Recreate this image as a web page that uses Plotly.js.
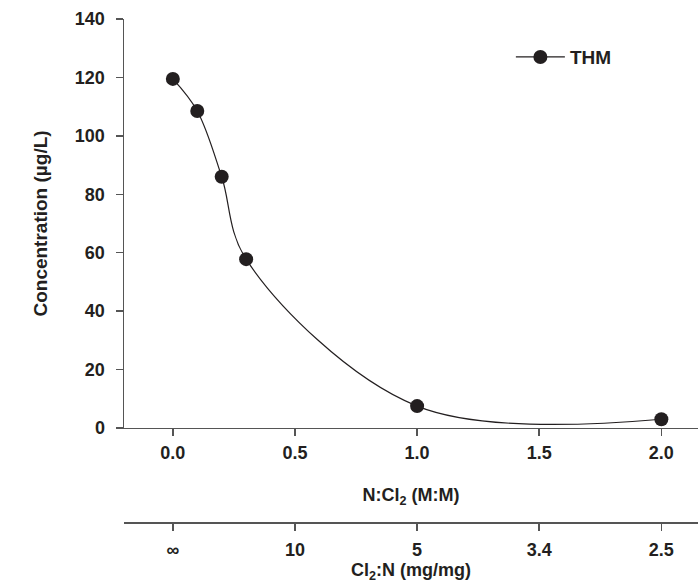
<!DOCTYPE html>
<html>
<head>
<meta charset="utf-8">
<script src="https://cdn.plot.ly/plotly-3.0.1.min.js"></script>
<style>html,body{margin:0;padding:0;background:#fff;}#chart{width:698px;height:583px;}</style>
</head>
<body>
<div id="chart"></div>
<script>
// Data
const ratioNCl2 = [0.0, 0.1, 0.2, 0.3, 1.0, 2.0];          // N:Cl2 (M:M)
const thmConc   = [119.5, 108.5, 86.0, 57.8, 7.5, 3.0];    // THM concentration (µg/L)
const xTickVals = [0.0, 0.5, 1.0, 1.5, 2.0];
const xTickText = ['0.0', '0.5', '1.0', '1.5', '2.0'];
const x2TickText = ['\u221e', '10', '5', '3.4', '2.5'];     // Cl2:N (mg/mg)
const yTickVals = [0, 20, 40, 60, 80, 100, 120, 140];

const FONT = 'Liberation Sans, Arial, Helvetica, sans-serif';
const INK = '#231f20';
const AX = '#555555';
const TF = {family: FONT, size: 18, color: INK, weight: 'bold'};

const trace = {
  x: ratioNCl2,
  y: thmConc,
  name: 'THM',
  type: 'scatter',
  mode: 'lines+markers',
  line: {shape: 'spline', smoothing: 1, color: INK, width: 1.2},
  marker: {size: 14, color: INK, line: {width: 0}},
  cliponaxis: false
};

const dummy2 = {
  x: xTickVals, y: [null, null, null, null, null],
  xaxis: 'x2', yaxis: 'y', showlegend: false, hoverinfo: 'skip', mode: 'markers'
};

const layout = {
  width: 698, height: 583,
  margin: {l: 124, r: 0, t: 19, b: 61},
  paper_bgcolor: '#ffffff', plot_bgcolor: '#ffffff',
  font: TF,
  showlegend: true,
  legend: {x: 0.674, y: 0.962, xanchor: 'left', yanchor: 'top', bgcolor: 'rgba(0,0,0,0)',
           itemwidth: 49,
           font: {family: FONT, size: 19, color: INK, weight: 'bold'}},
  xaxis: {
    range: [-0.2, 2.15], anchor: 'y',
    tickvals: xTickVals, ticktext: xTickText,
    showline: true, linecolor: AX, linewidth: 1.5,
    ticks: 'outside', ticklen: 7, tickcolor: AX, tickwidth: 1.5,
    ticklabelstandoff: 1,
    showgrid: false, zeroline: false,
    tickfont: TF,
    title: {text: 'N:Cl<sub>2</sub> (M:M)', standoff: 26, font: TF}
  },
  xaxis2: {
    range: [-0.2, 2.15], overlaying: 'x', anchor: 'free', position: 0, side: 'bottom',
    tickvals: xTickVals, ticktext: x2TickText,
    showline: true, linecolor: AX, linewidth: 1.5,
    ticks: 'outside', ticklen: 7, tickcolor: AX, tickwidth: 1.5,
    ticklabelstandoff: 4,
    showgrid: false, zeroline: false,
    tickfont: TF,
    title: {text: 'Cl<sub>2</sub>:N (mg/mg)', standoff: 1, font: TF}
  },
  yaxis: {
    range: [0, 140], domain: [0.1869, 1],
    tickvals: yTickVals,
    showline: true, linecolor: AX, linewidth: 1.5,
    ticks: 'outside', ticklen: 7, tickcolor: AX, tickwidth: 1.5,
    ticklabelstandoff: 7,
    showgrid: false, zeroline: false,
    tickfont: TF,
    title: {text: 'Concentration (\u00b5g/L)', standoff: 22, font: {family: FONT, size: 19, color: INK, weight: 'bold'}}
  }
};

Plotly.newPlot('chart', [trace, dummy2], layout, {displayModeBar: false, staticPlot: true});
</script>
</body>
</html>
